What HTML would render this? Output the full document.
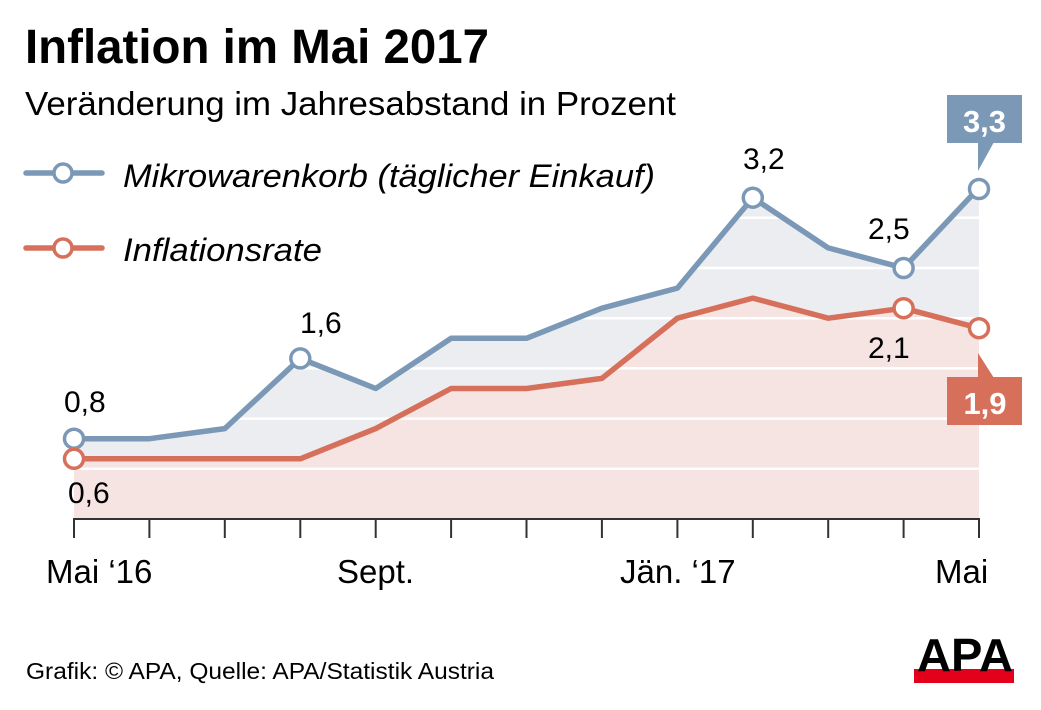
<!DOCTYPE html>
<html><head><meta charset="utf-8"><style>
html,body{margin:0;padding:0;background:#fff;}
svg{display:block;}
text{font-family:"Liberation Sans",sans-serif;}
</style></head><body>
<svg width="1041" height="710" viewBox="0 0 1041 710" xmlns="http://www.w3.org/2000/svg">
<rect width="1041" height="710" fill="#fff"/>
<!-- Title -->
<text x="25" y="63" font-size="48" font-weight="bold" fill="#000" textLength="464" lengthAdjust="spacingAndGlyphs">Inflation im Mai 2017</text>
<text x="25" y="115" font-size="33" fill="#000" textLength="651" lengthAdjust="spacingAndGlyphs">Veränderung im Jahresabstand in Prozent</text>
<!-- Legend -->
<line x1="26" y1="173" x2="102" y2="173" stroke="#7b99b7" stroke-width="5.5" stroke-linecap="round"/>
<circle cx="63" cy="173" r="9" fill="#fff" stroke="#7b99b7" stroke-width="3.5"/>
<text x="123" y="187" font-size="32" font-style="italic" fill="#000" textLength="532" lengthAdjust="spacingAndGlyphs">Mikrowarenkorb (täglicher Einkauf)</text>
<line x1="26" y1="248" x2="102" y2="248" stroke="#d6705b" stroke-width="5.5" stroke-linecap="round"/>
<circle cx="63" cy="248" r="9" fill="#fff" stroke="#d6705b" stroke-width="3.5"/>
<text x="123" y="261" font-size="32" font-style="italic" fill="#000" textLength="199" lengthAdjust="spacingAndGlyphs">Inflationsrate</text>
<!-- Fills -->
<polygon fill="#ebedf1" points="74,438.7 149.4,438.7 224.8,428.6 300.3,358.4 375.7,388.5 451.1,338.3 526.5,338.3 601.9,308.2 677.4,288.1 752.8,197.7 828.2,247.9 903.6,268 979,187.7 979,519 74,519"/>
<polygon fill="#f5e4e1" points="74,458.8 149.4,458.8 224.8,458.8 300.3,458.8 375.7,428.6 451.1,388.5 526.5,388.5 601.9,378.4 677.4,318.2 752.8,298.1 828.2,318.2 903.6,308.2 979,328.2 979,519 74,519"/>
<!-- Gridlines -->
<g stroke="#fff" stroke-width="2.5">
<line x1="74" y1="468.8" x2="979" y2="468.8"/>
<line x1="74" y1="418.6" x2="979" y2="418.6"/>
<line x1="74" y1="368.4" x2="979" y2="368.4"/>
<line x1="74" y1="318.2" x2="979" y2="318.2"/>
<line x1="74" y1="268" x2="979" y2="268"/>
<line x1="74" y1="217.8" x2="979" y2="217.8"/>
</g>
<!-- Axis -->
<g stroke="#333" stroke-width="2">
<line x1="73" y1="519" x2="980" y2="519"/>
<line x1="74" y1="519" x2="74" y2="538"/>
<line x1="149.4" y1="519" x2="149.4" y2="538"/>
<line x1="224.8" y1="519" x2="224.8" y2="538"/>
<line x1="300.3" y1="519" x2="300.3" y2="538"/>
<line x1="375.7" y1="519" x2="375.7" y2="538"/>
<line x1="451.1" y1="519" x2="451.1" y2="538"/>
<line x1="526.5" y1="519" x2="526.5" y2="538"/>
<line x1="601.9" y1="519" x2="601.9" y2="538"/>
<line x1="677.4" y1="519" x2="677.4" y2="538"/>
<line x1="752.8" y1="519" x2="752.8" y2="538"/>
<line x1="828.2" y1="519" x2="828.2" y2="538"/>
<line x1="903.6" y1="519" x2="903.6" y2="538"/>
<line x1="979" y1="519" x2="979" y2="538"/>
</g>
<g font-size="33" fill="#000">
<text x="46" y="583">Mai ‘16</text>
<text x="337" y="583">Sept.</text>
<text x="620" y="583">Jän. ‘17</text>
<text x="935" y="583">Mai</text>
</g>
<!-- Lines -->
<polyline fill="none" stroke="#7b99b7" stroke-width="5.5" stroke-linejoin="round" points="74,438.7 149.4,438.7 224.8,428.6 300.3,358.4 375.7,388.5 451.1,338.3 526.5,338.3 601.9,308.2 677.4,288.1 752.8,197.7 828.2,247.9 903.6,268 979,187.7"/>
<polyline fill="none" stroke="#d6705b" stroke-width="5.5" stroke-linejoin="round" points="74,458.8 149.4,458.8 224.8,458.8 300.3,458.8 375.7,428.6 451.1,388.5 526.5,388.5 601.9,378.4 677.4,318.2 752.8,298.1 828.2,318.2 903.6,308.2 979,328.2"/>
<!-- Markers -->
<g fill="#fff" stroke="#7b99b7" stroke-width="3.5">
<circle cx="74" cy="438.7" r="9.5"/>
<circle cx="300.3" cy="358.4" r="9.5"/>
<circle cx="752.8" cy="197.7" r="9.5"/>
<circle cx="903.6" cy="268" r="9.5"/>
<circle cx="979" cy="189" r="9.5"/>
</g>
<g fill="#fff" stroke="#d6705b" stroke-width="3.5">
<circle cx="74" cy="458.8" r="9.5"/>
<circle cx="903.6" cy="308.2" r="9.5"/>
<circle cx="979" cy="328.2" r="9.5"/>
</g>
<!-- Data labels -->
<g font-size="30" fill="#000">
<text x="64" y="412">0,8</text>
<text x="68" y="503">0,6</text>
<text x="300" y="333">1,6</text>
<text x="743" y="169">3,2</text>
<text x="868" y="239">2,5</text>
<text x="868" y="358">2,1</text>
</g>
<!-- Callouts -->
<rect x="947" y="95" width="75" height="48" fill="#7b99b7"/>
<polygon points="978,142 978,171 994,142" fill="#7b99b7"/>
<text x="984.5" y="132" font-size="31" font-weight="bold" fill="#fff" text-anchor="middle">3,3</text>
<rect x="947" y="377" width="75" height="48" fill="#d6705b"/>
<polygon points="978,353 978,378 994,378" fill="#d6705b"/>
<text x="985" y="414" font-size="31" font-weight="bold" fill="#fff" text-anchor="middle">1,9</text>
<!-- Footer -->
<text x="26" y="679" font-size="23" fill="#000" textLength="468" lengthAdjust="spacingAndGlyphs">Grafik: © APA, Quelle: APA/Statistik Austria</text>
<!-- APA logo -->
<rect x="914" y="669" width="100" height="14" fill="#e2001a"/>
<text x="917" y="671" font-size="46" font-weight="bold" fill="#000" textLength="96" lengthAdjust="spacingAndGlyphs">APA</text>
</svg>
</body></html>
